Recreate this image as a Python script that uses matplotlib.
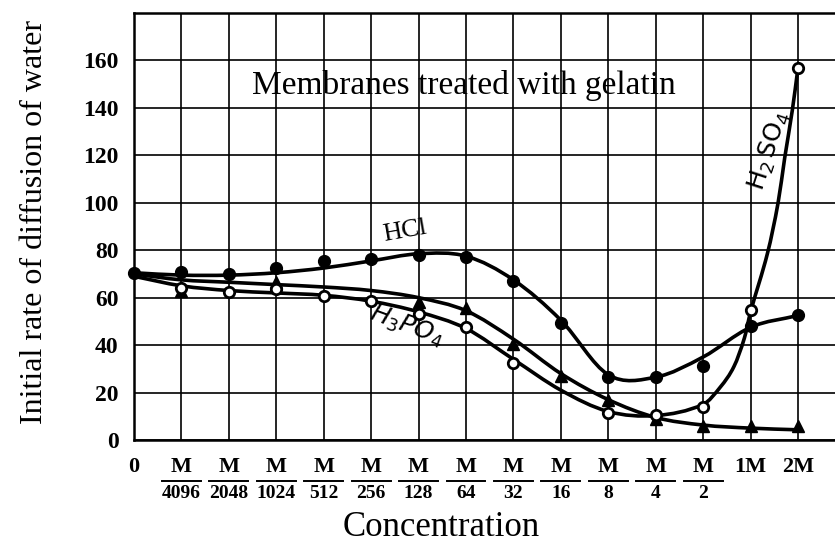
import numpy as np
import matplotlib
matplotlib.use("Agg")
import matplotlib.pyplot as plt
from matplotlib.path import Path
from matplotlib.patches import PathPatch
import matplotlib.transforms as mtransforms

# ---------------- data ----------------
tick_top = ["0", "M", "M", "M", "M", "M", "M", "M", "M", "M", "M", "M", "M", "1M", "2M"]
tick_den = ["", "4096", "2048", "1024", "512", "256", "128", "64", "32", "16", "8", "4", "2", "", ""]
positions = list(range(15))

# marker values (NaN = no marker)
hcl_pts = [70.5, 71, 70, 72.5, 75.5, 76.5, 78, 77, 67, 49.5, 26.5, 26.5, 31, 48, 52.5]
h2so4_pts = [np.nan, 64, 62.5, 63.5, 60.5, 58.5, 53, 47.5, 32.5, np.nan, 11.5, 10.5, 14, 55, 157]
h3po4_pts = [np.nan, 63, np.nan, 66.5, np.nan, np.nan, 58, 55.5, 40.5, 27, 17, 9, 6, 6, 6]

# hand-drawn curve knots
hcl_curve_x = [0, 1, 2, 3, 4, 5, 6, 7, 8, 9, 10, 11, 12, 13, 14]
hcl_curve_y = [70.5, 69.5, 69.5, 70.5, 72.5, 75.5, 78.5, 77.5, 67.5, 50.5, 27.5, 26.5, 35, 47.5, 52.5]
h3po4_curve_x = [0, 1, 2, 3, 4, 5, 6, 7, 8, 9, 10, 11, 12, 13, 14]
h3po4_curve_y = [70, 67.5, 66.5, 65.5, 64.5, 63, 60, 54.5, 42.5, 28, 17, 9.5, 6.3, 5, 4.3]
h2so4_curve_x = [0, 1, 2, 3, 4, 5, 6, 7, 8, 9, 10, 11, 12, 12.37, 12.65, 12.87, 13.0,
                 13.36, 13.58, 13.72, 13.88, 14.0]
h2so4_curve_y = [69, 65, 63, 62, 61, 58.5, 54, 47, 34, 21, 12, 10.3, 15, 22.5, 31, 43, 54,
                 79, 100, 119, 139, 157]

yticks = [0, 20, 40, 60, 80, 100, 120, 140, 160]

# ---------------- figure ----------------
W, H = 835, 555
fig = plt.figure(figsize=(W / 100, H / 100), dpi=100)
ax = fig.add_axes([134 / W, 1 - 440 / H, 1 - 134 / W, (440 - 13) / H])
ax.set_xlim(0, 14.78)
ax.set_ylim(0, 180)

ax.set_xticks(positions)
ax.set_xticklabels([])
ax.set_yticks(list(range(0, 181, 20)))
ax.set_yticklabels([str(v) if v in yticks else "" for v in range(0, 181, 20)],
                   fontfamily="Liberation Serif", fontweight="bold", fontsize=17)
ax.tick_params(length=0, pad=11)
ax.grid(True, color="black", linewidth=1.2)
ax.set_axisbelow(True)
for s in ["left", "top", "bottom"]:
    ax.spines[s].set_linewidth(1.8)
ax.spines["right"].set_visible(False)


def smooth(xs, ys, **kw):
    xs = np.asarray(xs, float)
    ys = np.asarray(ys, float)
    n = len(xs)
    m = np.zeros(n)
    m[0] = (ys[1] - ys[0]) / (xs[1] - xs[0])
    m[-1] = (ys[-1] - ys[-2]) / (xs[-1] - xs[-2])
    for i in range(1, n - 1):
        m[i] = (ys[i + 1] - ys[i - 1]) / (xs[i + 1] - xs[i - 1])
    verts = [(xs[0], ys[0])]
    codes = [Path.MOVETO]
    for i in range(n - 1):
        h = xs[i + 1] - xs[i]
        verts += [(xs[i] + h / 3, ys[i] + m[i] * h / 3),
                  (xs[i + 1] - h / 3, ys[i + 1] - m[i + 1] * h / 3),
                  (xs[i + 1], ys[i + 1])]
        codes += [Path.CURVE4] * 3
    ax.add_patch(PathPatch(Path(verts, codes), fill=False, transform=ax.transData,
                           capstyle="round", joinstyle="round", **kw))


lw = 2.6
smooth(hcl_curve_x, hcl_curve_y, lw=lw, edgecolor="black", zorder=3)
smooth(h3po4_curve_x, h3po4_curve_y, lw=lw, edgecolor="black", zorder=3)
smooth(h2so4_curve_x, h2so4_curve_y, lw=lw, edgecolor="black", zorder=3)

ax.plot(positions, hcl_pts, "o", ms=8.5, mfc="black", mec="black", zorder=5, clip_on=False)
ax.plot(positions, h3po4_pts, "^", ms=8.5, mfc="black", mec="black", zorder=5, clip_on=False)
ax.plot(positions, h2so4_pts, "o", ms=7.5, mfc="white", mec="black", mew=2.0, zorder=6, clip_on=False)

# ---------------- text ----------------
serif = "Liberation Serif"
ax.text(6.95, 149.5, "Membranes treated with gelatin", fontsize=24, family=serif,
        ha="center", va="center")
ax.text(5.72, 88, "HCl", fontsize=19, family=serif, rotation=10, ha="center", va="center")
ax.text(5.75, 48, r"$H_3PO_4$", fontsize=18, rotation=-20, ha="center", va="center")
ax.text(13.4, 122, r"$\mathrm{H_2\,SO_4}$", fontsize=18, rotation=72, ha="center", va="center")

trans = mtransforms.blended_transform_factory(ax.transData, ax.transAxes)
y_top = -(467 - 440) / 427
y_bot = -(494 - 440) / 427
y_bar = -(481 - 440) / 427
for p, top, den in zip(positions, tick_top, tick_den):
    ax.text(p, y_top, top, transform=trans, family=serif, fontweight="bold",
            fontsize=16, ha="center", va="center", clip_on=False)
    if den:
        ax.text(p, y_bot, den, transform=trans, family=serif, fontweight="bold",
                fontsize=14, ha="center", va="center", clip_on=False)
        ax.plot([p - 0.41, p + 0.41], [y_bar, y_bar], transform=trans, color="black",
                lw=1.4, clip_on=False)

fig.text(441 / W, 1 - 528 / H, "Concentration", fontsize=25, family=serif,
         ha="center", va="center")
fig.text(35 / W, 1 - 222 / H, "Initial rate of diffusion of water", fontsize=23,
         family=serif, rotation=90, ha="center", va="center")

fig.savefig("out.png", dpi=100)
